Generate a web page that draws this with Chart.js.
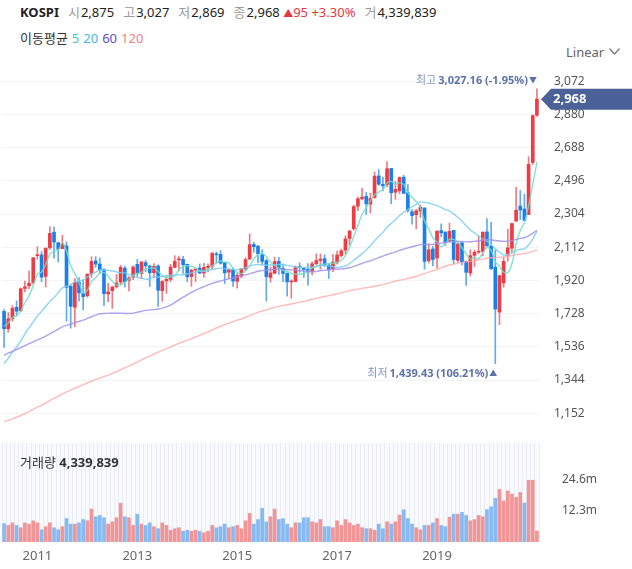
<!DOCTYPE html>
<html lang="ko">
<head>
<meta charset="utf-8">
<title>KOSPI</title>
<script src="https://cdn.jsdelivr.net/npm/chart.js@4.4.1/dist/chart.umd.min.js"></script>
<style>
  html, body { margin: 0; padding: 0; background: #fff; }
  body { width: 632px; height: 569px; position: relative; overflow: hidden;
         font-family: "Noto Sans", "Noto Sans CJK KR", sans-serif; color: #222; }
  .row { position: absolute; left: 20px; white-space: nowrap; font-size: 13px; line-height: 18px; }
  .row1 { top: 3px; }
  .row2 { top: 29px; color: #333; }
  .k { color: #9a9a9a; margin-left: 9px; margin-right: 1px; }
  .up { color: #e8363d; }
  .tri { font-size: 10px; }
  .ma { margin-left: 4px; }
  .linear { position: absolute; left: 566px; top: 43px; font-size: 13px; line-height: 18px; color: #666; }
  .linear svg { margin-left: 5px; vertical-align: 2px; }
  .vol { position: absolute; left: 20px; top: 453px; font-size: 13px; line-height: 18px; color: #333; }
  canvas { position: absolute; left: 0; }
  #price { top: 62px; }
  #volume { top: 441px; }
</style>
</head>
<body>
<div class="row row1"><b>KOSPI</b><span class="k">시</span>2,875<span class="k">고</span>3,027<span class="k">저</span>2,869<span class="k">종</span>2,968<span class="up"> <span class="tri">▲</span>95 +3.30%</span><span class="k">거</span>4,339,839</div>
<div class="row row2">이동평균<span class="ma" style="color:#3fcdb5">5</span><span class="ma" style="color:#49b8e6">20</span><span class="ma" style="color:#5b4fd0">60</span><span class="ma" style="color:#f27b85">120</span></div>
<div class="linear">Linear<svg width="11" height="7" viewBox="0 0 11 7"><polyline points="0.5,0.5 5.5,6 10.5,0.5" fill="none" stroke="#777" stroke-width="1.2"/></svg></div>
<canvas id="price" width="632" height="372"></canvas>
<canvas id="volume" width="632" height="128"></canvas>
<div class="vol">거래량 <b>4,339,839</b></div>
<script>
// monthly KOSPI candles, 2010-05 .. 2021-01
const startYear = 2010;
const startMonth = 5;

const opens = [1741,1640,1698,1765,1744,1874,1889,1908,
  2063,2068,1943,2109,2199,2138,2104,2120,1886,1765,1910,1845,
  1831,1958,2033,2015,1983,1842,1861,1883,1910,1991,1920,1939,
  2013,1961,2023,2003,1965,2004,1861,1917,1926,1996,2039,2042,
  2013,1942,1980,1991,1963,1995,2002,2074,2071,2023,1968,1982,
  1915,1945,1986,2044,2128,2117,2068,2034,1937,1961,2030,1990,
  1962,1911,1914,1997,1993,1984,1971,2017,2035,2046,2009,1988,
  2022,2064,2095,2163,2219,2349,2392,2406,2362,2400,2524,2475,
  2474,2567,2430,2438,2517,2427,2317,2300,2322,2339,2034,2102,
  2050,2208,2200,2146,2210,2036,2137,2030,1963,2065,2083,2088,
  2201,2119,1997,1737,1906,2066,2107,2263,2350,2333,2301,2602,
  2875];
const highs = [1752,1734,1774,1802,1877,1916,1976,2052,
  2115,2087,2107,2231,2229,2141,2181,2143,1895,1931,1937,1922,
  1958,2057,2057,2049,1987,1904,1887,1955,2007,2003,1944,2006,
  2042,2027,2036,2008,2018,2010,1919,1947,2013,2063,2061,2059,
  2014,1983,1988,2015,2019,2016,2082,2085,2093,2024,1986,1993,
  1960,1990,2052,2189,2141,2123,2098,2042,1998,2055,2053,2015,
  1962,1924,2004,2022,1994,2018,2027,2073,2073,2068,2020,2070,
  2089,2101,2178,2211,2355,2402,2454,2430,2424,2547,2561,2518,
  2607,2568,2492,2518,2528,2474,2330,2330,2356,2340,2132,2115,
  2207,2247,2200,2252,2210,2139,2140,2034,2097,2095,2176,2203,
  2277,2256,2094,1952,2055,2217,2250,2458,2440,2419,2635,2878,
  3027.16];
const lows = [1532,1620,1684,1714,1740,1854,1872,1897,
  2043,1913,1882,2100,2049,2026,2103,1684,1644,1652,1800,1750,
  1823,1937,1995,1961,1774,1797,1758,1876,1892,1882,1860,1924,
  1943,1930,1970,1885,1934,1770,1799,1845,1912,1994,1975,1960,
  1913,1886,1913,1960,1937,1969,1985,2021,2014,1902,1931,1886,
  1876,1935,1976,2041,2084,2023,2010,1800,1910,1960,1955,1913,
  1829,1817,1912,1967,1937,1892,1952,2010,1985,2000,1931,1970,
  2015,2055,2073,2124,2210,2324,2385,2300,2310,2394,2469,2437,
  2460,2363,2389,2421,2423,2314,2245,2218,2285,1985,2021,2004,
  1993,2173,2123,2144,2016,2024,2010,1891,1945,2000,2076,2063,
  2119,1983,1439.43,1664,1880,2031,2082,2263,2272,2267,2300,2590,
  2869];
const closes = [1641,1698,1759,1742,1872,1883,1904,2051,
  2069,1939,2107,2192,2142,2101,2133,1880,1770,1909,1848,1826,
  1956,2030,2014,1982,1843,1854,1881,1905,1996,1912,1933,1997,
  1961,2027,2005,1964,2001,1863,1914,1926,1997,2030,2045,2011,
  1941,1980,1986,1962,1995,2002,2076,2068,2020,1964,1981,1916,
  1949,1986,2041,2127,2115,2074,2030,1941,1963,2029,1992,1961,
  1912,1917,1996,1994,1983,1970,2016,2035,2043,2008,1983,2026,
  2067,2091,2160,2205,2347,2392,2402,2363,2394,2523,2476,2467,
  2566,2427,2446,2515,2423,2326,2295,2323,2343,2030,2097,2041,
  2205,2195,2141,2204,2041,2131,2025,1967,2063,2083,2087,2198,
  2119,1987,1754,1947,2030,2108,2249,2326,2327,2267,2591,2873,
  2968.21];

// volume in millions
const volumes = [7.2,6.5,7.5,6.5,5.6,7.5,7.0,8.3,
  7.5,4.8,6.0,7.5,5.6,4.8,6.0,9.2,7.0,7.0,7.5,8.8,
  8.3,12.9,9.9,10.4,9.5,7.0,7.9,9.5,15.2,9.9,9.5,6.5,
  10.9,7.0,6.5,7.5,6.0,5.2,7.5,6.5,4.6,5.2,5.6,4.2,
  4.6,4.2,4.6,4.2,3.6,4.2,6.5,5.6,6.0,7.0,5.6,6.0,
  6.5,5.2,8.3,11.2,7.0,8.8,13.2,7.9,9.9,12.9,8.8,9.2,
  7.0,5.6,7.5,7.5,9.5,9.5,7.9,7.5,8.8,6.0,6.0,5.6,
  8.3,6.5,8.8,7.5,6.5,7.0,5.6,5.2,5.2,4.6,7.0,5.2,
  7.9,7.0,7.9,10.6,12.6,9.2,7.0,5.6,4.8,6.5,6.5,7.5,
  9.2,6.5,6.0,9.7,10.9,10.9,11.6,10.4,8.3,8.8,10.4,9.9,
  12.7,13.8,17.1,20.6,16.1,20.0,18.8,17.5,19.4,15.3,24.2,24.2,
  4.3];

// moving averages as shown
const ma5 = [1654,1673,1706,1716,1742,1791,1832,1890,
  1956,1969,2014,2072,2090,2096,2135,2090,2005,1959,1908,1847,
  1862,1914,1935,1962,1965,1945,1915,1893,1896,1910,1925,1949,
  1960,1966,1985,1991,1992,1972,1949,1934,1940,1946,1982,2002,
  2005,2001,1993,1976,1973,1985,2004,2021,2032,2026,2022,1990,
  1966,1959,1975,2004,2044,2069,2077,2057,2025,2007,1991,1977,
  1971,1962,1956,1956,1960,1972,1992,2000,2009,2014,2017,2019,
  2025,2035,2065,2110,2174,2239,2301,2342,2380,2415,2432,2445,
  2485,2492,2476,2484,2475,2427,2401,2376,2342,2263,2218,2167,
  2143,2114,2136,2157,2157,2142,2108,2074,2045,2054,2045,2080,
  2110,2095,2029,2001,1967,1965,2018,2132,2208,2255,2352,2477,
  2605];
const ma20 = [1440,1470,1504,1535,1570,1611,1646,1680,
  1714,1741,1769,1799,1822,1848,1877,1887,1896,1911,1919,1923,
  1939,1956,1968,1980,1979,1978,1976,1969,1965,1964,1955,1946,
  1937,1933,1926,1931,1942,1940,1943,1948,1950,1950,1952,1953,
  1958,1964,1970,1973,1973,1977,1984,1988,1991,1988,1986,1984,
  1981,1987,1994,2004,2010,2012,2011,2008,2009,2011,2012,2012,
  2007,2003,1999,1995,1994,1994,1996,2002,2006,2007,2004,1999,
  1997,1998,2004,2018,2037,2055,2075,2096,2120,2150,2174,2198,
  2227,2250,2271,2295,2314,2330,2346,2360,2374,2371,2368,2360,
  2353,2343,2330,2322,2304,2285,2262,2237,2212,2195,2177,2161,
  2146,2129,2102,2083,2067,2071,2079,2093,2099,2103,2125,2159,
  2205];
const ma60 = [1487,1499,1509,1520,1531,1543,1554,1565,
  1576,1586,1598,1611,1624,1638,1652,1660,1667,1676,1683,1690,
  1700,1710,1719,1727,1729,1731,1730,1730,1731,1729,1729,1731,
  1736,1742,1747,1749,1751,1755,1760,1767,1777,1792,1808,1823,
  1836,1851,1864,1874,1884,1894,1903,1911,1917,1923,1930,1934,
  1940,1946,1952,1959,1966,1973,1977,1981,1982,1984,1986,1984,
  1982,1981,1980,1976,1974,1971,1970,1972,1977,1978,1981,1984,
  1986,1987,1989,1993,2001,2010,2019,2027,2033,2043,2052,2060,
  2070,2077,2084,2094,2101,2108,2115,2121,2127,2127,2128,2128,
  2133,2136,2139,2143,2144,2146,2145,2143,2144,2146,2148,2153,
  2155,2155,2151,2148,2146,2147,2150,2157,2163,2167,2177,2192,
  2210];
const ma120 = [1104,1111,1120,1129,1139,1150,1162,1175,
  1187,1198,1211,1225,1238,1250,1264,1275,1286,1297,1307,1317,
  1327,1337,1346,1355,1364,1373,1383,1393,1404,1415,1425,1436,
  1447,1460,1472,1483,1495,1505,1515,1524,1535,1546,1556,1566,
  1575,1584,1593,1603,1613,1623,1634,1645,1655,1664,1673,1682,
  1690,1698,1707,1717,1727,1736,1743,1750,1757,1764,1770,1775,
  1779,1784,1789,1794,1799,1805,1811,1816,1822,1827,1832,1837,
  1843,1848,1854,1860,1865,1870,1874,1878,1882,1886,1891,1896,
  1903,1909,1916,1921,1926,1931,1937,1944,1952,1959,1968,1976,
  1984,1994,2002,2009,2014,2020,2024,2027,2030,2035,2039,2043,
  2048,2051,2051,2053,2056,2060,2064,2069,2072,2076,2081,2088,
  2096];

const priceTicks = [1152, 1344, 1536, 1728, 1920, 2112, 2304, 2496, 2688, 2880, 3072];
const volumeTicks = [12.3, 24.6];
const yearTicks = ['2011', '2013', '2015', '2017', '2019'];

const months = closes.map((_, i) => {
    const m = startMonth - 1 + i;
    return (startYear + Math.floor(m / 12)) + '-' + String(m % 12 + 1).padStart(2, '0');
});

const FONT = '"Noto Sans", "Noto Sans CJK KR", sans-serif';
const UP = '#ee3b44', DOWN = '#1a80e8';
const UP_WICK = '#f07a80', DOWN_WICK = '#62a9ee';
const isUp = closes.map((c, i) => c >= opens[i]);
const volUp = closes.map((c, i) => c >= (i ? closes[i - 1] : opens[i]));

const fmt = v => Math.round(v).toLocaleString('en-US');
const fmt2 = v => v.toLocaleString('en-US', { minimumFractionDigits: 2, maximumFractionDigits: 2 });
const pct = r => ((r - 1) * 100).toFixed(2);

// ------------------- plugins -------------------
const priceTag = {
    id: 'priceTag',
    afterDraw(chart) {
        const { ctx, chartArea, scales } = chart;
        const last = closes[closes.length - 1];
        const y = scales.y.getPixelForValue(last);
        const tip = chartArea.right + 2, left = tip + 10, h = 10.5;
        ctx.save();
        ctx.fillStyle = '#4a6298';
        ctx.beginPath();
        ctx.moveTo(tip, y);
        ctx.lineTo(left, y - h);
        ctx.lineTo(chart.width, y - h);
        ctx.lineTo(chart.width, y + h);
        ctx.lineTo(left, y + h);
        ctx.closePath();
        ctx.fill();
        ctx.fillStyle = '#fff';
        ctx.font = 'bold 13px ' + FONT;
        ctx.textBaseline = 'middle';
        ctx.fillText(fmt(last), left + 2, y + 0.5);
        ctx.restore();
    }
};

function drawNote(ctx, label, value, arrow, right, y) {
    ctx.save();
    ctx.textBaseline = 'middle';
    ctx.textAlign = 'right';
    ctx.font = '8px ' + FONT;
    ctx.fillStyle = '#5d72ab';
    ctx.fillText(arrow, right, y);
    let x = right - ctx.measureText(arrow).width - 1;
    ctx.font = 'bold 11px ' + FONT;
    ctx.fillText(value, x, y);
    x -= ctx.measureText(value).width + 2;
    ctx.font = '11px ' + FONT;
    ctx.fillStyle = '#8595c3';
    ctx.fillText(label, x, y);
    ctx.restore();
}

const extremes = {
    id: 'extremes',
    afterDatasetsDraw(chart) {
        const { ctx, scales: { x, y } } = chart;
        const last = closes[closes.length - 1];
        const hi = highs.indexOf(Math.max(...highs));
        const lo = lows.indexOf(Math.min(...lows));
        drawNote(ctx, '최고', fmt2(highs[hi]) + ' (' + pct(last / highs[hi]) + '%)', '▼',
            x.getPixelForValue(hi), y.getPixelForValue(highs[hi]) - 8);
        drawNote(ctx, '최저', fmt2(lows[lo]) + ' (' + pct(last / lows[lo]) + '%)', '▲',
            x.getPixelForValue(lo) + 2, y.getPixelForValue(lows[lo]) + 10);
    }
};

const panelBg = {
    id: 'panelBg',
    beforeDraw(chart) {
        const { ctx, chartArea: a } = chart;
        ctx.save();
        ctx.fillStyle = '#f9fafd';
        ctx.fillRect(0, a.top, a.right + 1, a.bottom - a.top);
        ctx.restore();
    }
};

const noPad = s => { s.paddingTop = 0; s.paddingBottom = 0; s.paddingLeft = 0; s.paddingRight = 0; };

// ------------------- price chart -------------------
const maLine = (label, data, color) => ({
    type: 'line', label, data, borderColor: color, borderWidth: 1.4,
    pointRadius: 0, tension: 0.3, fill: false, order: 0
});

new Chart(document.getElementById('price'), {
    type: 'bar',
    data: {
        labels: months,
        datasets: [
            {
                label: 'wick', data: lows.map((l, i) => [l, highs[i]]),
                backgroundColor: isUp.map(u => u ? UP_WICK : DOWN_WICK),
                barThickness: 1, grouped: false, order: 2
            },
            {
                label: 'body', data: opens.map((o, i) => [o, closes[i]]),
                backgroundColor: isUp.map(u => u ? UP : DOWN),
                barThickness: 3, minBarLength: 1, grouped: false, order: 1
            },
            maLine('MA120', ma120, 'rgba(255,170,170,0.8)'),
            maLine('MA60', ma60, 'rgba(160,146,236,0.85)'),
            maLine('MA20', ma20, 'rgba(120,206,238,0.85)'),
            maLine('MA5', ma5, 'rgba(110,222,196,0.85)')
        ]
    },
    options: {
        responsive: false,
        animation: false,
        events: [],
        layout: { padding: { left: 2, right: 0, top: 0, bottom: 0 } },
        plugins: { legend: { display: false }, tooltip: { enabled: false } },
        scales: {
            x: { type: 'category', offset: true, display: false },
            y: {
                position: 'right', min: 1032, max: 3183,
                afterBuildTicks: s => { s.ticks = priceTicks.map(v => ({ value: v })); },
                afterFit: s => { s.width = 93; noPad(s); },
                grid: { color: '#f2f3f6', drawTicks: false },
                border: { display: false },
                ticks: { padding: 15, color: '#555', font: { size: 12, family: FONT }, callback: v => fmt(v) }
            }
        }
    },
    plugins: [extremes, priceTag]
});

// ------------------- volume chart -------------------
new Chart(document.getElementById('volume'), {
    type: 'bar',
    data: {
        labels: months,
        datasets: [{
            label: 'volume', data: volumes,
            backgroundColor: volUp.map(u => u ? 'rgba(240,120,122,0.78)' : 'rgba(100,168,238,0.78)'),
            barThickness: 3
        }]
    },
    options: {
        responsive: false,
        animation: false,
        events: [],
        layout: { padding: { left: 2, right: 0, top: 2, bottom: 0 } },
        plugins: { legend: { display: false }, tooltip: { enabled: false } },
        scales: {
            x: {
                type: 'category', offset: true,
                afterFit: s => { s.height = 27; noPad(s); },
                grid: { color: 'rgba(226,230,240,0.7)', drawTicks: false, offset: true },
                border: { display: false },
                ticks: {
                    autoSkip: false, maxRotation: 0, minRotation: 0, padding: 6,
                    color: '#666', font: { size: 13, family: FONT },
                    callback(v) {
                        const [yy, mm] = this.getLabelForValue(v).split('-');
                        return mm === '01' && yearTicks.includes(yy) ? yy : '';
                    }
                }
            },
            y: {
                position: 'right', min: 0, max: 38.8,
                afterBuildTicks: s => { s.ticks = volumeTicks.map(v => ({ value: v })); },
                afterFit: s => { s.width = 93; noPad(s); },
                grid: { display: false },
                border: { display: false },
                ticks: { padding: 15, color: '#555', font: { size: 12, family: FONT }, callback: v => v + 'm' }
            }
        }
    },
    plugins: [panelBg]
});
</script>
</body>
</html>
